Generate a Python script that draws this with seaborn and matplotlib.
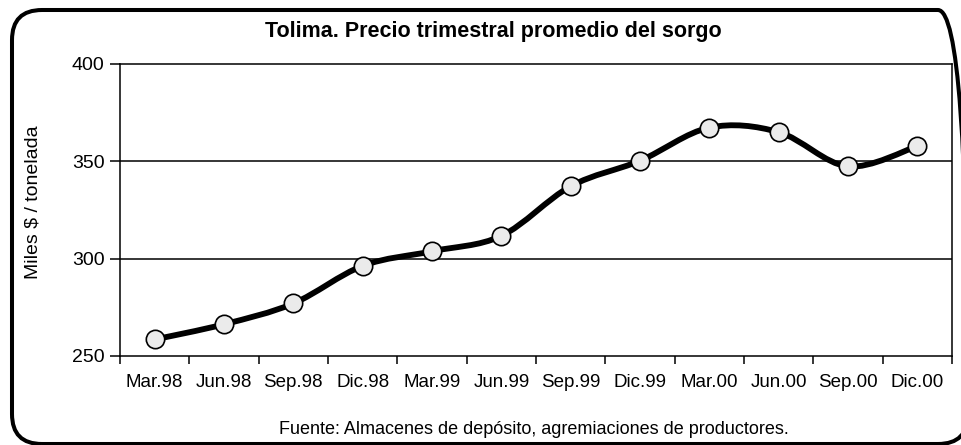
import numpy as np
import pandas as pd
import matplotlib
matplotlib.use("Agg")
import matplotlib.pyplot as plt
import matplotlib.transforms as mtransforms
import seaborn as sns
from matplotlib.path import Path
from matplotlib.patches import PathPatch, FancyBboxPatch

# ---- data ----
quarters = ["Mar.98", "Jun.98", "Sep.98", "Dic.98", "Mar.99", "Jun.99",
            "Sep.99", "Dic.99", "Mar.00", "Jun.00", "Sep.00", "Dic.00"]
prices = [258.5, 266.3, 277.0, 296.3, 303.8, 311.7,
          337.2, 350.3, 367.3, 365.0, 347.4, 357.8]
y_ticks = [250, 300, 350, 400]
title = "Tolima. Precio trimestral promedio del sorgo"
ylabel = "Miles $ / tonelada"
source = "Fuente: Almacenes de depósito, agremiaciones de productores."

sns.set_theme(style="ticks")
plt.rcParams["font.family"] = ["Liberation Sans", "DejaVu Sans"]

W, H = 961, 445
fig = plt.figure(figsize=(W / 100, H / 100), dpi=100)
ax = fig.add_axes([120 / W, 1 - 356 / H, (952 - 120) / W, (356 - 64) / H])

df = pd.DataFrame({"pos": np.arange(len(quarters)), "precio": prices})

# smoothed line (Bezier through the data points, like Excel's smoothed line)
pts = np.column_stack([df["pos"].values.astype(float), df["precio"].values])
ext = np.vstack([pts[0], pts, pts[-1]])
verts = [pts[0]]
codes = [Path.MOVETO]
for i in range(len(pts) - 1):
    p0, p1, p2, p3 = ext[i], ext[i + 1], ext[i + 2], ext[i + 3]
    c1 = p1 + (p2 - p0) / 6.0
    c2 = p2 - (p3 - p1) / 6.0
    verts += [c1, c2, p2]
    codes += [Path.CURVE4] * 3
ax.add_patch(PathPatch(Path(verts, codes), fill=False, lw=4.2, ec="black",
                       capstyle="round", joinstyle="round", zorder=3))

sns.scatterplot(data=df, x="pos", y="precio", s=175, color="#ebebeb",
                edgecolor="black", linewidth=1.2, zorder=4, ax=ax, legend=False)

ax.set_xlim(-0.5, len(quarters) - 0.5)
ax.set_ylim(y_ticks[0], y_ticks[-1])
ax.set_yticks(y_ticks)
ax.set_xticks(np.arange(-0.5, len(quarters), 1.0))
ax.set_xticklabels([])
ax.set_xticks(np.arange(len(quarters)), minor=True)
ax.set_xticklabels(quarters, minor=True)
ax.tick_params(axis="x", which="major", length=6, width=1.1, color="black",
               direction="out", bottom=True)
ax.tick_params(axis="x", which="minor", length=0, pad=13, labelsize=13.5,
               labelcolor="black")
ax.tick_params(axis="y", length=7, width=1.1, color="black", left=True,
               labelsize=14, pad=4, labelcolor="black")
for v in y_ticks[1:-1]:
    ax.axhline(v, color="black", lw=1.1, zorder=1)
for s in ax.spines.values():
    s.set_visible(True)
    s.set_color("black")
    s.set_linewidth(1.1)
ax.set_xlabel("")
ax.set_ylabel("")

fig.text(33 / W, 1 - 202 / H, ylabel, rotation=90, ha="center", va="center",
         fontsize=14, color="black")
fig.text(493 / W, 1 - 32 / H, title, ha="center", va="center",
         fontsize=15.5, fontweight="bold", color="black")
fig.text(534 / W, 1 - 430 / H, source, ha="center", va="center",
         fontsize=13, color="black")

# rounded chart frame, in pixel units (right edge lies just outside the image)
border = FancyBboxPatch((12, 1), 956, 434,
                        boxstyle="round,pad=0,rounding_size=30",
                        transform=mtransforms.IdentityTransform(), fill=False,
                        ec="black", lw=2.9, zorder=10, clip_on=False)
fig.patches.append(border)

fig.savefig("out.png", dpi=100)
